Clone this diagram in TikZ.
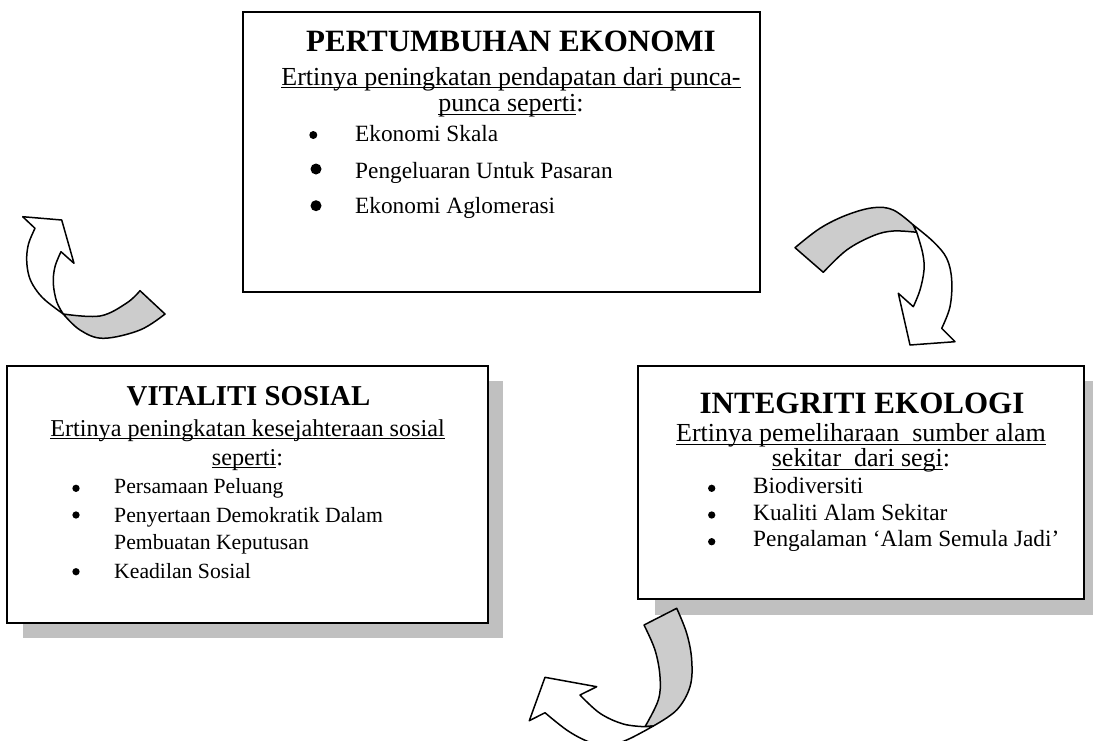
\documentclass[tikz,border=0pt]{standalone}
\usepackage{fontspec}
\setmainfont{Liberation Serif}
\usetikzlibrary{calc}
\definecolor{shadegray}{HTML}{C0C0C0}
\definecolor{arrowgray}{HTML}{CCCCCC}
\newcommand\myul[1]{\setbox0\hbox{#1}\rlap{\rule[-3.4pt]{\wd0}{1.3pt}}\box0}
\tikzset{
  box/.style={draw=black, line width=1.7pt, fill=white, inner sep=0pt, outer sep=0pt, anchor=north west},
  ttlA/.style={anchor=base, inner sep=0pt, font=\fontsize{31}{31}\selectfont\bfseries},
  ttlB/.style={anchor=base, inner sep=0pt, font=\fontsize{28.8}{29}\selectfont\bfseries},
  subA/.style={anchor=base, inner sep=0pt, font=\fontsize{26}{26}\selectfont},
  subB/.style={anchor=base, inner sep=0pt, font=\fontsize{24.2}{24}\selectfont},
  itmA/.style={anchor=base west, inner sep=0pt, font=\fontsize{23.3}{23}\selectfont},
  itmB/.style={anchor=base west, inner sep=0pt, font=\fontsize{21.7}{22}\selectfont},
  dot/.style={circle, fill=black, inner sep=0pt, outer sep=0pt},
  arrowline/.style={draw=black, line width=1.5pt, line join=round},
}
\begin{document}
\begin{tikzpicture}[x=1pt,y=-1pt]
\useasboundingbox (0,0) rectangle (1093,740);
\clip (0,0) rectangle (1093,740);
\fill[white] (0,0) rectangle (1093,740);

% ---------- top box ----------
\node[box, minimum width=517pt, minimum height=280pt] (eko) at (243,12) {};
\node[ttlA] (ekoT) at (511,51.7) {PERTUMBUHAN EKONOMI};
\node[subA] (ekoS1) at (511,85) {\myul{Ertinya peningkatan pendapatan dari punca-}};
\node[subA] (ekoS2) at (511,111.7) {\myul{punca seperti}:};
\node[dot, minimum size=8pt] (ekoD1) at (313.3,135) {};
\node[dot, minimum size=11pt] (ekoD2) at (316,169) {};
\node[dot, minimum size=11pt] (ekoD3) at (316,205.7) {};
\node[itmA] (ekoB1) at (355,141.7) {Ekonomi Skala};
\node[itmA] (ekoB2) at (355,178.3) {Pengeluaran Untuk Pasaran};
\node[itmA] (ekoB3) at (355,213.3) {Ekonomi Aglomerasi};

% ---------- left box ----------
\node[box, draw=none, fill=none, minimum width=481pt, minimum height=257pt] (vitS) at (7,366) {};
\fill[shadegray] ($(vitS.north west)+(16,15)$) rectangle ($(vitS.south east)+(15,15)$);
\node[box, minimum width=481pt, minimum height=257pt] (vit) at (7,366) {};
\node[ttlB] (vitT) at (248.5,405) {VITALITI SOSIAL};
\node[subB] (vitS1) at (247.5,436) {\myul{Ertinya peningkatan kesejahteraan sosial}};
\node[subB] (vitS2) at (247.5,465) {\myul{seperti}:};
\node[dot, minimum size=7.3pt] (vitD1) at (76,488.3) {};
\node[dot, minimum size=7.3pt] (vitD2) at (76,515) {};
\node[dot, minimum size=7.3pt] (vitD3) at (76,571.7) {};
\node[itmB] (vitB1) at (114,493.3) {Persamaan Peluang};
\node[itmB] (vitB2) at (114,522.7) {Penyertaan Demokratik Dalam};
\node[itmB] (vitB2b) at (114,549.3) {Pembuatan Keputusan};
\node[itmB] (vitB3) at (114,578.3) {Keadilan Sosial};

% ---------- right box ----------
\node[box, draw=none, fill=none, minimum width=446pt, minimum height=233pt] (ekoS) at (638,366) {};
\fill[shadegray] ($(ekoS.north west)+(17,15)$) rectangle ($(ekoS.south east)+(16,16)$);
\node[box, minimum width=446pt, minimum height=233pt] (eco) at (638,366) {};
\node[ttlA] (ecoT) at (862,413.3) {INTEGRITI EKOLOGI};
\node[subA] (ecoS1) at (861,441.7) {\myul{Ertinya pemeliharaan\ \ sumber alam}};
\node[subA] (ecoS2) at (861,466.7) {\myul{sekitar\ \ dari segi}:};
\node[dot, minimum size=7.3pt] (ecoD1) at (711.7,488.3) {};
\node[dot, minimum size=7.3pt] (ecoD2) at (711.7,515) {};
\node[dot, minimum size=7.3pt] (ecoD3) at (711.7,541.7) {};
\node[itmA] (ecoB1) at (753,493.3) {Biodiversiti};
\node[itmA] (ecoB2) at (753,520) {Kualiti Alam Sekitar};
\node[itmA] (ecoB3) at (753,546.7) {Pengalaman ‘Alam Semula Jadi’};

% ---------- arrow 1 (top left) ----------
\path[arrowline, fill=arrowgray]
  plot[smooth, tension=0.6] coordinates {(63.3,314) (100,316) (126.7,303) (140,290.7)}
  -- (165,314)
  -- plot[smooth, tension=0.6] coordinates {(165,314) (140,330) (103.3,338.3) (80,330) (63.3,314)}
  -- cycle;
\path[arrowline, fill=white]
  plot[smooth, tension=0.6] coordinates {(63.3,314) (56.7,301.7) (53.3,283.3) (55,266.7) (61,251.7)}
  -- (74,263.3) -- (61.7,220) -- (22.7,216.7) -- (35,228.3)
  -- plot[smooth, tension=0.6] coordinates {(35,228.3) (28.5,244) (26.7,260) (29,276) (35,288.3) (45,300) (63.3,314)}
  -- cycle;

% ---------- arrow 2 (right) ----------
\path[arrowline, fill=arrowgray]
  plot[smooth, tension=0.6] coordinates {(795,247.7) (820,228.3) (846.7,215) (873.3,207.7) (893.3,210) (913.3,225)}
  -- (916.7,232.3)
  -- plot[smooth, tension=0.6] coordinates {(916.7,232.3) (893.3,231) (873.3,235.7) (846.7,250) (823.3,272.3)}
  -- cycle;
\path[arrowline, fill=white]
  plot[smooth, tension=0.6] coordinates {(913.3,225) (933.3,241.7) (946.7,258.3) (951.7,280) (950,306.7) (941.7,328.3)}
  -- (955,341.7) -- (910,345) -- (898.3,293.3) -- (913.3,306.7)
  -- plot[smooth, tension=0.6] coordinates {(913.3,306.7) (920,290) (924,270) (922.7,253.3) (916.7,232.3)}
  -- cycle;

% ---------- arrow 3 (bottom) ----------
\path[arrowline, fill=arrowgray]
  (644,625) -- (676.7,608.3)
  -- plot[smooth, tension=0.6] coordinates {(676.7,608.3) (686.7,633.3) (691.7,660) (690,686.7) (676.7,710) (653.3,726)}
  -- (645,726.7)
  -- plot[smooth, tension=0.6] coordinates {(645,726.7) (658.3,700) (660,676.7) (655,650) (644,625)}
  -- cycle;
\path[arrowline, fill=white]
  plot[smooth, tension=0.6] coordinates {(645,726.7) (623.3,724) (600,713.3) (580,695)}
  -- (596.7,686.7) -- (545,677.3) -- (529.3,720.7) -- (545,712.7)
  -- plot[smooth, tension=0.6] coordinates {(545,712.7) (566.7,730) (586.7,741) (605,746) (626.7,740) (653.3,726)}
  -- cycle;
\end{tikzpicture}
\end{document}
